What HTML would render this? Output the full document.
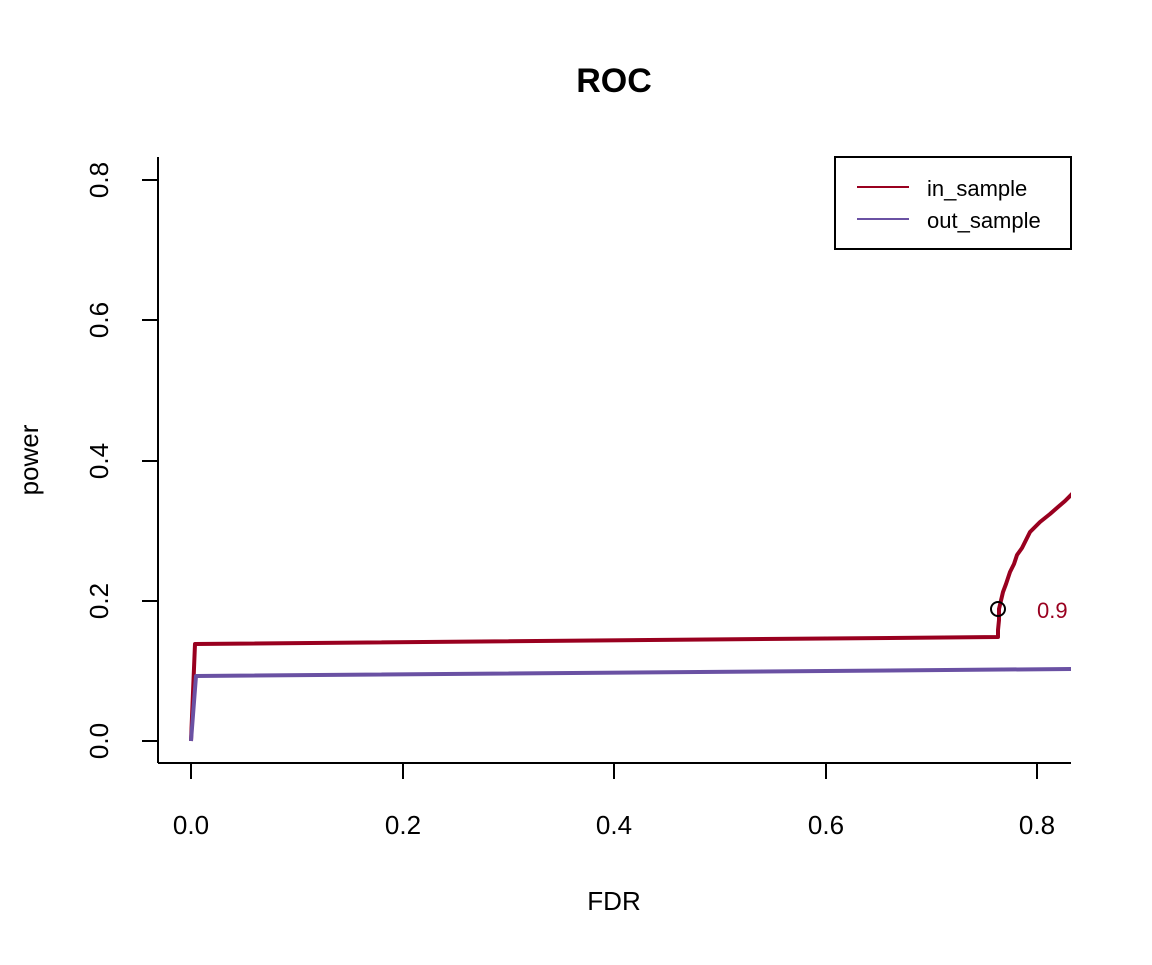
<!DOCTYPE html>
<html><head><style>body{margin:0;background:#fff}</style></head><body>
<svg width="1152" height="960" xmlns="http://www.w3.org/2000/svg" font-family="Liberation Sans, Arial, sans-serif">
<rect width="1152" height="960" fill="#fff"/>
<text x="614" y="92" font-size="34" font-weight="bold" text-anchor="middle">ROC</text>
<g stroke="#000" stroke-width="2" fill="none">
<line x1="158" y1="157" x2="158" y2="763"/>
<line x1="158" y1="763" x2="1071" y2="763"/>
<line x1="142" y1="741" x2="158" y2="741"/><line x1="142" y1="601" x2="158" y2="601"/><line x1="142" y1="461" x2="158" y2="461"/><line x1="142" y1="320" x2="158" y2="320"/><line x1="142" y1="180" x2="158" y2="180"/>
<line x1="191" y1="763" x2="191" y2="779"/><line x1="403" y1="763" x2="403" y2="779"/><line x1="614" y1="763" x2="614" y2="779"/><line x1="826" y1="763" x2="826" y2="779"/><line x1="1037" y1="763" x2="1037" y2="779"/>
</g>
<g font-size="26" text-anchor="middle">
<text x="191" y="834">0.0</text><text x="403" y="834">0.2</text><text x="614" y="834">0.4</text><text x="826" y="834">0.6</text><text x="1037" y="834">0.8</text>
<text x="614" y="910">FDR</text>
<text transform="translate(108,741) rotate(-90)">0.0</text>
<text transform="translate(108,601) rotate(-90)">0.2</text>
<text transform="translate(108,461) rotate(-90)">0.4</text>
<text transform="translate(108,320) rotate(-90)">0.6</text>
<text transform="translate(108,180) rotate(-90)">0.8</text>
<text transform="translate(38,460) rotate(-90)">power</text>
</g>
<defs><clipPath id="c"><rect x="158" y="150" width="913" height="613"/></clipPath></defs>
<g clip-path="url(#c)" fill="none" stroke-width="4" stroke-linejoin="round">
<polyline stroke="#99001f" points="191,741 195,644 998,637 998,630 999,620 999,609 1003,592 1006,584 1010,572 1014,564 1017,555 1022,548 1027,538 1030,532 1034,528 1040,522 1050,514 1058,507 1065,501 1073,493"/>
<polyline stroke="#6a51a3" points="191,741 196,676 1071,669"/>
</g>
<circle cx="998" cy="609" r="7" fill="none" stroke="#000" stroke-width="2"/>
<text x="1037" y="618" font-size="22" fill="#99001f">0.9</text>
<rect x="835" y="157" width="236" height="92" fill="#fff" stroke="#000" stroke-width="2"/>
<line x1="857" y1="187" x2="909" y2="187" stroke="#99001f" stroke-width="2"/>
<line x1="857" y1="219" x2="909" y2="219" stroke="#6a51a3" stroke-width="2"/>
<text x="927" y="196" font-size="22">in_sample</text>
<text x="927" y="228" font-size="22">out_sample</text>
</svg>
</body></html>
